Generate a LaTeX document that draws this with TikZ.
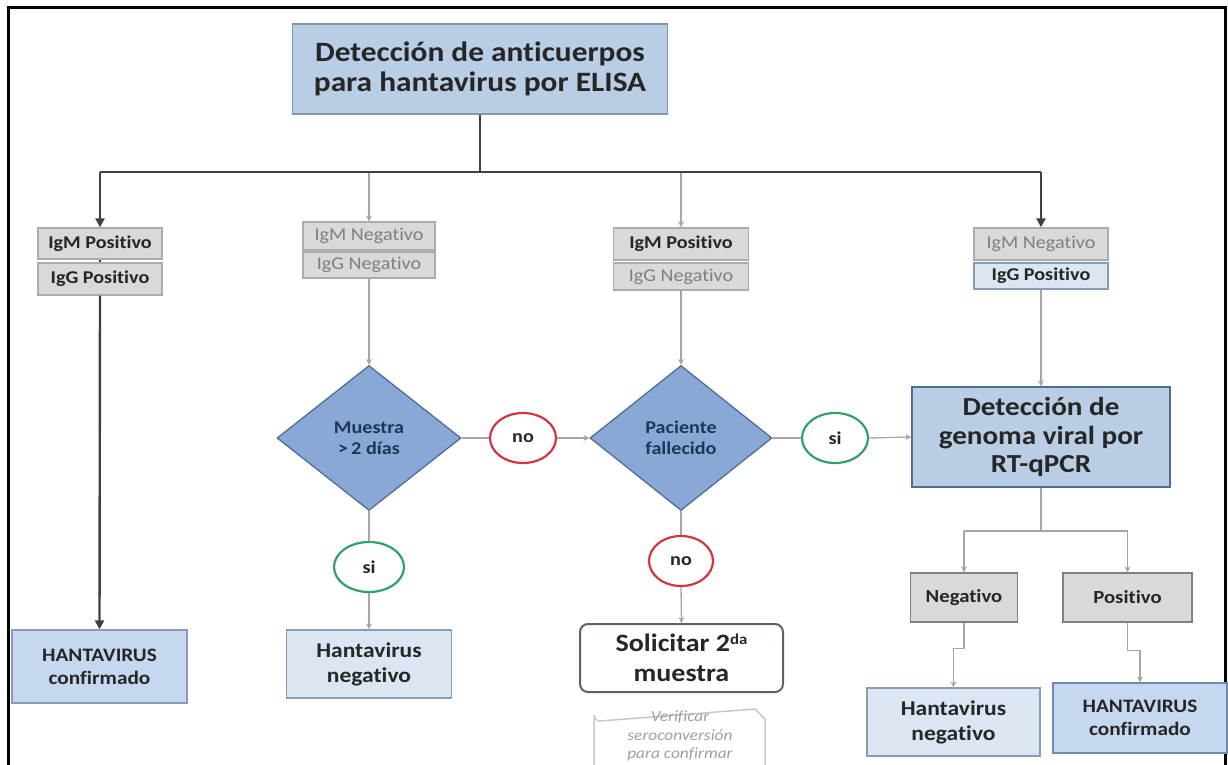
\documentclass[tikz,border=0pt]{standalone}
\usepackage{fontspec}
\setmainfont{Carlito}[FakeStretch=1.12, Ligatures=NoCommon]
\usetikzlibrary{shapes.geometric,arrows.meta}
\definecolor{titlefill}{HTML}{B9CDE5}
\definecolor{titledraw}{HTML}{8196B2}
\definecolor{diafill}{HTML}{8AA8D6}
\definecolor{diadraw}{HTML}{4F6D98}
\definecolor{diatext}{HTML}{1F3557}
\definecolor{endfill}{HTML}{DCE6F2}
\definecolor{enddraw}{HTML}{8A9CB5}
\definecolor{conffill}{HTML}{C5D8F0}
\definecolor{graybox}{HTML}{D9D9D9}
\definecolor{graydraw}{HTML}{ACACAC}
\definecolor{txt}{HTML}{262626}
\definecolor{graytxt}{HTML}{7F7F7F}
\definecolor{nored}{HTML}{D2353F}
\definecolor{sigreen}{HTML}{33A06A}
\definecolor{thickline}{HTML}{404040}
\definecolor{thinline}{HTML}{A6A6A6}
\definecolor{notedraw}{HTML}{C8C8C8}
\definecolor{notetxt}{HTML}{A0A0A0}
\definecolor{soldraw}{HTML}{5A6470}
\tikzset{
  box/.style={draw, rectangle, inner sep=0pt, align=center, line width=1.3pt},
  gbox/.style={box, fill=graybox, draw=graydraw, text=txt, font=\fontsize{18}{20}\selectfont\bfseries},
  gboxl/.style={gbox, text=graytxt, font=\fontsize{18}{20}\selectfont},
  bbox/.style={box, fill=endfill, draw=enddraw, text=txt, font=\fontsize{18}{20}\selectfont\bfseries},
  endbox/.style={box, fill=endfill, draw=enddraw, text=txt, font=\fontsize{21}{25}\selectfont\bfseries},
  confbox/.style={box, fill=conffill, draw=enddraw, text=txt, font=\fontsize{19}{23}\selectfont\bfseries},
  dia/.style={diamond, draw=diadraw, fill=diafill, line width=1.3pt, inner sep=0pt, align=center, text=diatext, font=\fontsize{18}{21}\selectfont\bfseries},
  circ/.style={ellipse, fill=white, line width=2.2pt, inner sep=0pt, text=txt, font=\fontsize{18}{20}\selectfont\bfseries},
  thk/.style={line width=2.4pt, draw=thickline},
  thn/.style={line width=1.3pt, draw=thinline},
  tarr/.style={-{Triangle[length=9pt,width=9pt]}},
  sarr/.style={-{Stealth[length=6pt,width=6pt]}}
}
\begin{document}
\begin{tikzpicture}[x=1pt,y=-1pt]
\useasboundingbox (0,0) rectangle (1228,764);
% frame
\draw[line width=3pt] (8,770) -- (8,7.5) -- (1225.5,7.5) -- (1225.5,770);

% title
\node[box, fill=titlefill, draw=titledraw, minimum width=375pt, minimum height=90pt, text=txt,
  font=\fontsize{28}{30}\selectfont\bfseries] (title) at (480,69) {Detección de anticuerpos\\para hantavirus por ELISA};
\coordinate (bus) at (480,172);

% column 1
\node[gbox, minimum width=124pt, minimum height=31pt] (c1a) at (100,243.5) {IgM Positivo};
\node[gbox, minimum width=124pt, minimum height=32pt] (c1b) at (100,279) {IgG Positivo};
\node[confbox, minimum width=175pt, minimum height=73pt] (hc1) at (99.5,666.5) {HANTAVIRUS\\confirmado};

% column 2
\node[gboxl, minimum width=132pt, minimum height=28pt] (c2a) at (369,236) {IgM Negativo};
\node[gboxl, minimum width=132pt, minimum height=26pt] (c2b) at (369,265) {IgG Negativo};
\node[dia, minimum width=184pt, minimum height=145pt] (d1) at (369,438) {Muestra\\{>}\,2 días};
\node[circ, draw=sigreen, minimum width=70pt, minimum height=50pt] (si1) at (369,567) {si};
\node[endbox, minimum width=165pt, minimum height=68pt] (hn1) at (369,664) {Hantavirus\\negativo};

% middle no
\node[circ, draw=nored, minimum width=66pt, minimum height=50pt] (no1) at (523,438) {no};

% column 3
\node[gbox, minimum width=135pt, minimum height=32pt] (c3a) at (681,244) {IgM Positivo};
\node[gboxl, minimum width=135pt, minimum height=27pt] (c3b) at (681,276.5) {IgG Negativo};
\node[dia, minimum width=182pt, minimum height=145pt] (d2) at (681,438) {Paciente\\fallecido};
\node[circ, draw=nored, minimum width=64pt, minimum height=50pt] (no2) at (681,561) {no};
\node[box, draw=soldraw, fill=white, rounded corners=8pt, line width=2pt, minimum width=203pt, minimum height=68pt,
  text=txt, font=\fontsize{25}{30}\selectfont\bfseries] (sol) at (681.5,658) {Solicitar 2{\fontsize{15}{15}\selectfont\raisebox{7pt}{da}}\\muestra};
% note
\draw[notedraw, line width=1.5pt] (594,775) -- (594,715) arc[start angle=180, end angle=90, radius=6] -- (755,709) -- (765,719) -- (765,775);
\node[text=notetxt, align=center, font=\fontsize{15.5}{18.5}\selectfont\itshape, inner sep=0pt] (note) at (680,736) {Verificar\\seroconversión\\para confirmar};

% right si
\node[circ, draw=sigreen, minimum width=66pt, minimum height=50pt] (si2) at (835,438) {si};

% column 4
\node[gboxl, minimum width=134pt, minimum height=32pt] (c4a) at (1041,244) {IgM Negativo};
\node[bbox, minimum width=134pt, minimum height=26pt] (c4b) at (1041,276) {IgG Positivo};
\node[box, fill=titlefill, draw=diadraw, minimum width=258pt, minimum height=100pt, text=txt,
  font=\fontsize{26}{28.5}\selectfont\bfseries] (rt) at (1041,437) {Detección de\\genoma viral por\\RT-qPCR};
\coordinate (split) at (1041,531);
\node[gbox, draw=black!50, minimum width=107pt, minimum height=49pt, font=\fontsize{18.5}{20}\selectfont\bfseries] (neg) at (964,597.5) {Negativo};
\node[gbox, draw=black!50, minimum width=129pt, minimum height=49pt, font=\fontsize{18.5}{20}\selectfont\bfseries] (pos) at (1127.5,597.5) {Positivo};
\node[endbox, minimum width=173pt, minimum height=68pt] (hn2) at (953.5,722) {Hantavirus\\negativo};
\node[confbox, draw=diadraw!80, minimum width=174pt, minimum height=70pt] (hc2) at (1140,718) {HANTAVIRUS\\confirmado};

% connectors
\draw[thn,sarr] (c2a.north |- bus) -- (c2a.north);
\draw[thn,sarr] (c3a.north |- bus) -- (c3a.north);
\draw[thk] (title.south) -- (bus);
\draw[thk] (c1a.north |- bus) -- (c4a.north |- bus);
\draw[thk,tarr] (c1a.north |- bus) -- (c1a.north);
\draw[thk,tarr] (c4a.north |- bus) -- (c4a.north);
\draw[thk] (c1a.south) -- (c1b.north);
\draw[thk,tarr] (c1b.south) -- (hc1.north);
\draw[thn,sarr] (c2b.south) -- (d1.north);
\draw[thn] (d1.south) -- (si1.north);
\draw[thn,sarr] (si1.south) -- (hn1.north);
\draw[thn] (d1.east) -- (no1.west);
\draw[thn,sarr] (no1.east) -- (d2.west);
\draw[thn,sarr] (c3b.south) -- (d2.north);
\draw[thn] (d2.south) -- (no2.north);
\draw[thn,sarr] (no2.south) -- (sol.north);
\draw[thn] (d2.east) -- (si2.west);
\draw[thn,sarr] (si2.east) -- (rt.west);
\draw[thn,sarr] (c4b.south) -- (rt.north);
\draw[thn] (rt.south) -- (split);
\draw[thn] (neg.north |- split) -- (pos.north |- split);
\draw[thn,sarr] (neg.north |- split) -- (neg.north);
\draw[thn,sarr] (pos.north |- split) -- (pos.north);
\draw[thn,sarr] (neg.south) -- ++(0,26) -| (hn2.north);
\draw[thn,sarr] (pos.south) -- ++(0,28) -| (hc2.north);
\end{tikzpicture}
\end{document}
